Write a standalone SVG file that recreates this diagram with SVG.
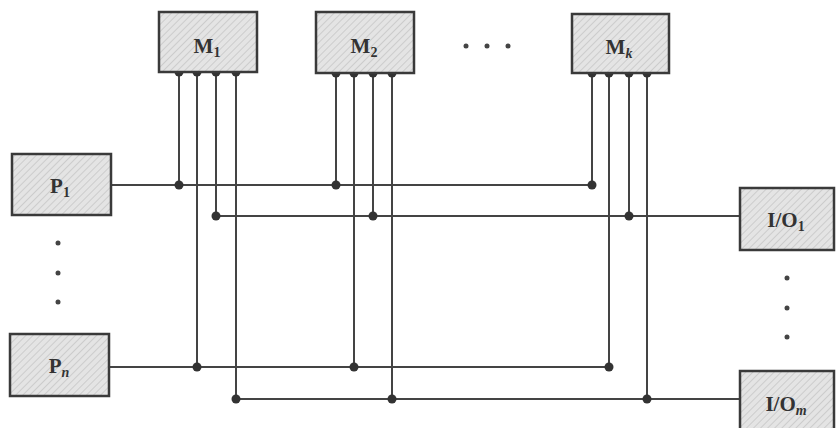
<svg xmlns="http://www.w3.org/2000/svg" width="836" height="428" viewBox="0 0 836 428">
<defs>
<pattern id="hatch" width="5" height="5" patternUnits="userSpaceOnUse" patternTransform="rotate(45)">
<rect width="5" height="5" fill="#e4e4e4"/>
<line x1="0" y1="0" x2="0" y2="5" stroke="#c4c4c4" stroke-width="1.5"/>
</pattern>
<style>
.box{fill:url(#hatch);stroke:#3a3a3a;stroke-width:2.5}
.lbl{font-family:"Liberation Serif","Times New Roman",serif;font-size:21px;font-weight:bold;fill:#333;text-anchor:middle}
.sub{font-size:14px}
.wire{stroke:#444;stroke-width:2;fill:none}
.dot{fill:#333}
.ell{fill:#444}
</style>
</defs>
<rect width="836" height="428" fill="#ffffff"/>

<g id="connectors">
<!-- bus from P1 -->
<path class="wire" d="M111 185 H592"/>
<!-- bus to I/O1 -->
<path class="wire" d="M216 216 H740"/>
<!-- bus from Pn -->
<path class="wire" d="M109 367 H609"/>
<!-- bus to I/Om -->
<path class="wire" d="M236 399 H740"/>
<!-- M1 pins -->
<path class="wire" d="M179 72 V185 M197 72 V367 M216 72 V216 M236 72 V399"/>
<!-- M2 pins -->
<path class="wire" d="M336 73 V185 M354 73 V367 M373 73 V216 M392 73 V399"/>
<!-- Mk pins -->
<path class="wire" d="M592 73 V185 M609 73 V367 M629 73 V216 M647 73 V399"/>
<g class="dot">
<circle cx="179" cy="72" r="4.5"/><circle cx="197" cy="72" r="4.5"/><circle cx="216" cy="72" r="4.5"/><circle cx="236" cy="72" r="4.5"/>
<circle cx="336" cy="73" r="4.5"/><circle cx="354" cy="73" r="4.5"/><circle cx="373" cy="73" r="4.5"/><circle cx="392" cy="73" r="4.5"/>
<circle cx="592" cy="73" r="4.5"/><circle cx="609" cy="73" r="4.5"/><circle cx="629" cy="73" r="4.5"/><circle cx="647" cy="73" r="4.5"/>
<circle cx="179" cy="185" r="4.5"/><circle cx="336" cy="185" r="4.5"/><circle cx="592" cy="185" r="4.5"/>
<circle cx="216" cy="216" r="4.5"/><circle cx="373" cy="216" r="4.5"/><circle cx="629" cy="216" r="4.5"/>
<circle cx="197" cy="367" r="4.5"/><circle cx="354" cy="367" r="4.5"/><circle cx="609" cy="367" r="4.5"/>
<circle cx="236" cy="399" r="4.5"/><circle cx="392" cy="399" r="4.5"/><circle cx="647" cy="399" r="4.5"/>
</g>
</g>

<g id="M1">
<rect class="box" x="159" y="12" width="98" height="60"/>
<text class="lbl" x="207" y="53">M<tspan class="sub" dy="4">1</tspan></text>
</g>
<g id="M2">
<rect class="box" x="316" y="12" width="98" height="61"/>
<text class="lbl" x="364" y="53">M<tspan class="sub" dy="4">2</tspan></text>
</g>
<g id="Mk">
<rect class="box" x="572" y="14" width="97" height="59"/>
<text class="lbl" x="619" y="54">M<tspan class="sub" dy="4" font-style="italic">k</tspan></text>
</g>
<g id="P1">
<rect class="box" x="12" y="154" width="99" height="61"/>
<text class="lbl" x="60" y="193">P<tspan class="sub" dy="4">1</tspan></text>
</g>
<g id="Pn">
<rect class="box" x="10" y="334" width="99" height="62"/>
<text class="lbl" x="59" y="373">P<tspan class="sub" dy="4" font-style="italic">n</tspan></text>
</g>
<g id="IO1">
<rect class="box" x="740" y="188" width="94" height="62"/>
<text class="lbl" x="786" y="227">I/O<tspan class="sub" dy="4">1</tspan></text>
</g>
<g id="IOm">
<rect class="box" x="740" y="371" width="94" height="60"/>
<text class="lbl" x="786" y="411">I/O<tspan class="sub" dy="4" font-style="italic">m</tspan></text>
</g>

<g id="ellipses" class="ell">
<circle cx="466" cy="46" r="2.5"/><circle cx="487" cy="46" r="2.5"/><circle cx="508" cy="46" r="2.5"/>
<circle cx="58" cy="243" r="2.5"/><circle cx="58" cy="273" r="2.5"/><circle cx="58" cy="302" r="2.5"/>
<circle cx="787" cy="278" r="2.5"/><circle cx="787" cy="308" r="2.5"/><circle cx="787" cy="337" r="2.5"/>
</g>
</svg>
